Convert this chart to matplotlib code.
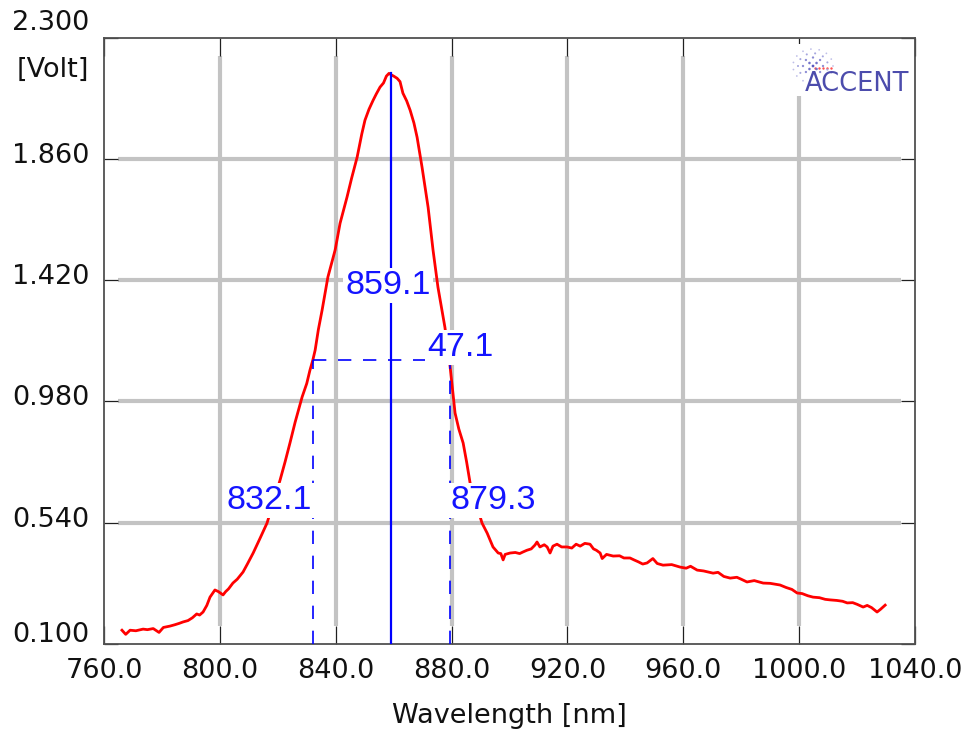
import numpy as np
import matplotlib
matplotlib.use("Agg")
import matplotlib.pyplot as plt
from matplotlib.transforms import offset_copy
from matplotlib.patches import Rectangle

# Measured spectrum: wavelength [nm] vs detector signal [Volt]
wavelength = [
    766.2, 767.5, 769.0, 771.0, 773.5, 775.0, 777.0, 779.0, 780.5, 782.8,
    784.5, 786.0, 787.3, 789.0, 790.5, 792.0, 793.0, 794.2, 795.5, 796.6,
    798.3, 799.5, 801.1, 802.0, 803.0, 804.5, 806.0, 808.0, 809.5, 811.5,
    813.9, 816.3, 818.5, 820.8, 822.5, 824.2, 826.0, 828.4, 830.0, 831.1,
    832.1, 832.9, 834.0, 835.3, 837.3, 839.8, 841.5, 843.9, 845.5, 847.4,
    849.0, 850.1, 851.5, 852.9, 854.0, 855.3, 856.5, 857.5, 858.4, 859.1,
    860.0, 861.2, 862.2, 863.2, 864.5, 865.7, 867.0, 868.1, 869.8, 871.9,
    873.6, 875.3, 877.7, 879.3, 881.2, 882.5, 884.0, 885.2, 886.4, 888.5,
    890.5, 892.3, 894.3, 896.1, 897.0, 897.8, 898.5, 900.2, 902.0, 903.5,
    904.7, 906.0, 907.5, 908.8, 909.5, 910.5, 912.0, 913.0, 914.0, 915.0,
    916.4, 918.0, 919.9, 921.5, 923.0, 924.4, 926.0, 927.8, 929.0, 930.0,
    931.3, 932.0, 933.5, 935.8, 938.0, 939.5, 941.6, 943.0, 944.5, 946.0,
    947.5, 949.5, 951.0, 953.0, 956.0, 958.9, 961.0, 962.5, 964.8, 967.0,
    970.3, 972.0, 974.0, 976.2, 978.5, 980.0, 982.0, 984.5, 987.6, 990.0,
    993.4, 995.5, 997.5, 999.3, 1001.0, 1003.0, 1004.8, 1007.0, 1009.0, 1010.7,
    1013.0, 1015.0, 1016.6, 1018.5, 1020.0, 1022.1, 1023.5, 1025.0, 1026.9, 1028.0,
    1029.7,
]
signal = [
    0.150, 0.135, 0.150, 0.148, 0.154, 0.152, 0.156, 0.142, 0.160, 0.165,
    0.170, 0.175, 0.180, 0.185, 0.195, 0.209, 0.205, 0.216, 0.240, 0.270,
    0.296, 0.290, 0.278, 0.290, 0.300, 0.321, 0.335, 0.361, 0.390, 0.430,
    0.484, 0.539, 0.615, 0.695, 0.760, 0.829, 0.905, 0.996, 1.045, 1.093,
    1.130, 1.166, 1.240, 1.311, 1.431, 1.529, 1.626, 1.721, 1.790, 1.866,
    1.950, 2.000, 2.040, 2.072, 2.095, 2.120, 2.135, 2.160, 2.170, 2.165,
    2.160, 2.152, 2.140, 2.098, 2.070, 2.036, 1.990, 1.938, 1.830, 1.684,
    1.529, 1.394, 1.249, 1.125, 0.938, 0.880, 0.829, 0.760, 0.684, 0.610,
    0.539, 0.502, 0.452, 0.430, 0.428, 0.405, 0.425, 0.430, 0.432, 0.428,
    0.434, 0.440, 0.445, 0.459, 0.470, 0.452, 0.460, 0.452, 0.430, 0.455,
    0.462, 0.452, 0.452, 0.448, 0.462, 0.455, 0.465, 0.462, 0.445, 0.440,
    0.430, 0.410, 0.425, 0.419, 0.420, 0.412, 0.412, 0.405, 0.398, 0.390,
    0.394, 0.410, 0.392, 0.386, 0.388, 0.379, 0.375, 0.382, 0.368, 0.365,
    0.357, 0.360, 0.345, 0.339, 0.342, 0.335, 0.325, 0.330, 0.321, 0.320,
    0.314, 0.305, 0.298, 0.285, 0.283, 0.275, 0.270, 0.268, 0.262, 0.260,
    0.258, 0.255, 0.249, 0.250, 0.244, 0.234, 0.240, 0.232, 0.216, 0.225,
    0.241,
]

# Peak analysis results
peak_wl = 859.1
peak_level = 2.17
half_left = 832.1
half_right = 879.3
half_level = 1.13
fwhm_text = "47.1"

x_ticks = [760.0, 800.0, 840.0, 880.0, 920.0, 960.0, 1000.0, 1040.0]
y_ticks = [0.100, 0.540, 0.980, 1.420, 1.860, 2.300]

W, H = 967, 732
fig = plt.figure(figsize=(W / 100, H / 100), dpi=100)
ax = fig.add_axes([104 / W, 1 - 644 / H, 811 / W, 606.5 / H])
ax.set_xlim(760, 1040)
ax.set_ylim(0.1, 2.3)

for s in ax.spines.values():
    s.set_color("#505050")
    s.set_linewidth(1.3)

tick_font = dict(family="DejaVu Sans", size=19.5, color="#111111")
blue = "#0000ff"

# Grid lines stop short of the spines, where the inward ticks sit
grid_c = "#c3c3c3"
for xv in x_ticks[1:-1]:
    ax.plot([xv, xv], [0.03, 0.97], color=grid_c, lw=3.0,
            transform=ax.get_xaxis_transform(), zorder=1, solid_capstyle="butt")
for yv in y_ticks[1:-1]:
    ax.plot([0.017, 0.983], [yv, yv], color=grid_c, lw=3.0,
            transform=ax.get_yaxis_transform(), zorder=1, solid_capstyle="butt")

ax.set_xticks(x_ticks)
ax.set_xticklabels([f"{v:.1f}" for v in x_ticks], fontdict=tick_font)
ax.set_yticks(y_ticks)
ax.tick_params(axis="x", which="both", direction="in", length=13, width=0.9,
               color="#202020", top=True, bottom=True, pad=10)
ax.tick_params(axis="y", which="both", direction="in", length=10, width=0.9,
               color="#202020", left=True, right=True, labelleft=False)

# Y tick labels sit slightly above their grid lines
y_shift = {0.100: 9, 2.300: 14.5}
for yv in y_ticks:
    tr = offset_copy(ax.get_yaxis_transform(), fig=fig, x=-15,
                     y=y_shift.get(yv, 3), units="dots")
    ax.text(0, yv, f"{yv:.3f}", transform=tr, ha="right", va="center",
            clip_on=False, **tick_font)
fig.text(89 / W, 1 - 70 / H, "[Volt]", ha="right", va="center", **tick_font)

ax.set_xlabel("Wavelength [nm]", fontdict=tick_font, labelpad=14)

# Spectrum
ax.plot(wavelength, signal, color="#ff0000", lw=2.0, zorder=3)

# Peak marker and full width at half maximum
ax.plot([peak_wl, peak_wl], [0.1, peak_level], color=blue, lw=1.6, zorder=4)
dash = dict(color=blue, lw=1.2, dashes=(8, 7), zorder=4)
ax.plot([half_left, half_right], [half_level, half_level], **dash)
ax.plot([half_left, half_left], [0.1, half_level], **dash)
ax.plot([half_right, half_right], [0.1, half_level], **dash)

lab_font = dict(family="Liberation Sans", size=24.5, color="#1414ff")
box = dict(facecolor="white", edgecolor="none", pad=1.5)
ax.text(peak_wl - 1.0, 1.40, f"{peak_wl:.1f}", ha="center", va="center",
        bbox=box, zorder=6, **lab_font)
ax.text(half_right + 3.6, half_level + 0.045, fwhm_text, ha="center", va="center",
        bbox=box, zorder=6, **lab_font)
ax.text(half_left - 0.4, 0.62, f"{half_left:.1f}", ha="right", va="center",
        bbox=box, zorder=6, **lab_font)
ax.text(half_right + 0.2, 0.62, f"{half_right:.1f}", ha="left", va="center",
        bbox=box, zorder=6, **lab_font)

# Company logo in the upper right corner
ax.add_patch(Rectangle((0.846, 0.9035), 0.1515, 0.0855, transform=ax.transAxes,
                       facecolor="white", edgecolor="none", zorder=2))
fig.text(857 / W, 1 - 84 / H, "ACCENT", ha="center", va="center",
         family="DejaVu Sans", size=18.5, color="#4c4cac", zorder=7)
cx, cy = 813.0, 66.0
dots_x, dots_y, dots_s, dots_c = [], [], [], []
for k, r in enumerate([0.0, 5.0, 10.0, 15.0, 20.0]):
    n = max(1, int(round(r * 0.75)))
    for j in range(n):
        ang = 2 * np.pi * (j + 0.5 * k) / n
        px, py = cx + r * np.cos(ang), cy + r * 0.85 * np.sin(ang)
        if py > 73 and px > 803:
            continue
        dots_x.append(px / W)
        dots_y.append(1 - py / H)
        dots_s.append(max(1.2, 4.0 - 0.6 * k))
        dots_c.append((0.35 + 0.1 * k, 0.35 + 0.1 * k, 0.75 + 0.04 * k))
fig_dots = fig.add_axes([0, 0, 1, 1], facecolor="none")
fig_dots.set_axis_off()
fig_dots.set_xlim(0, 1)
fig_dots.set_ylim(0, 1)
fig_dots.scatter(dots_x, dots_y, s=dots_s, c=dots_c, linewidths=0, zorder=8)
red_x = [(815 + 4 * i) / W for i in range(5)]
fig_dots.scatter(red_x, [1 - 68 / H] * 5, s=3.0, c="#ff5050", linewidths=0)

fig.savefig("out.png", dpi=100)
